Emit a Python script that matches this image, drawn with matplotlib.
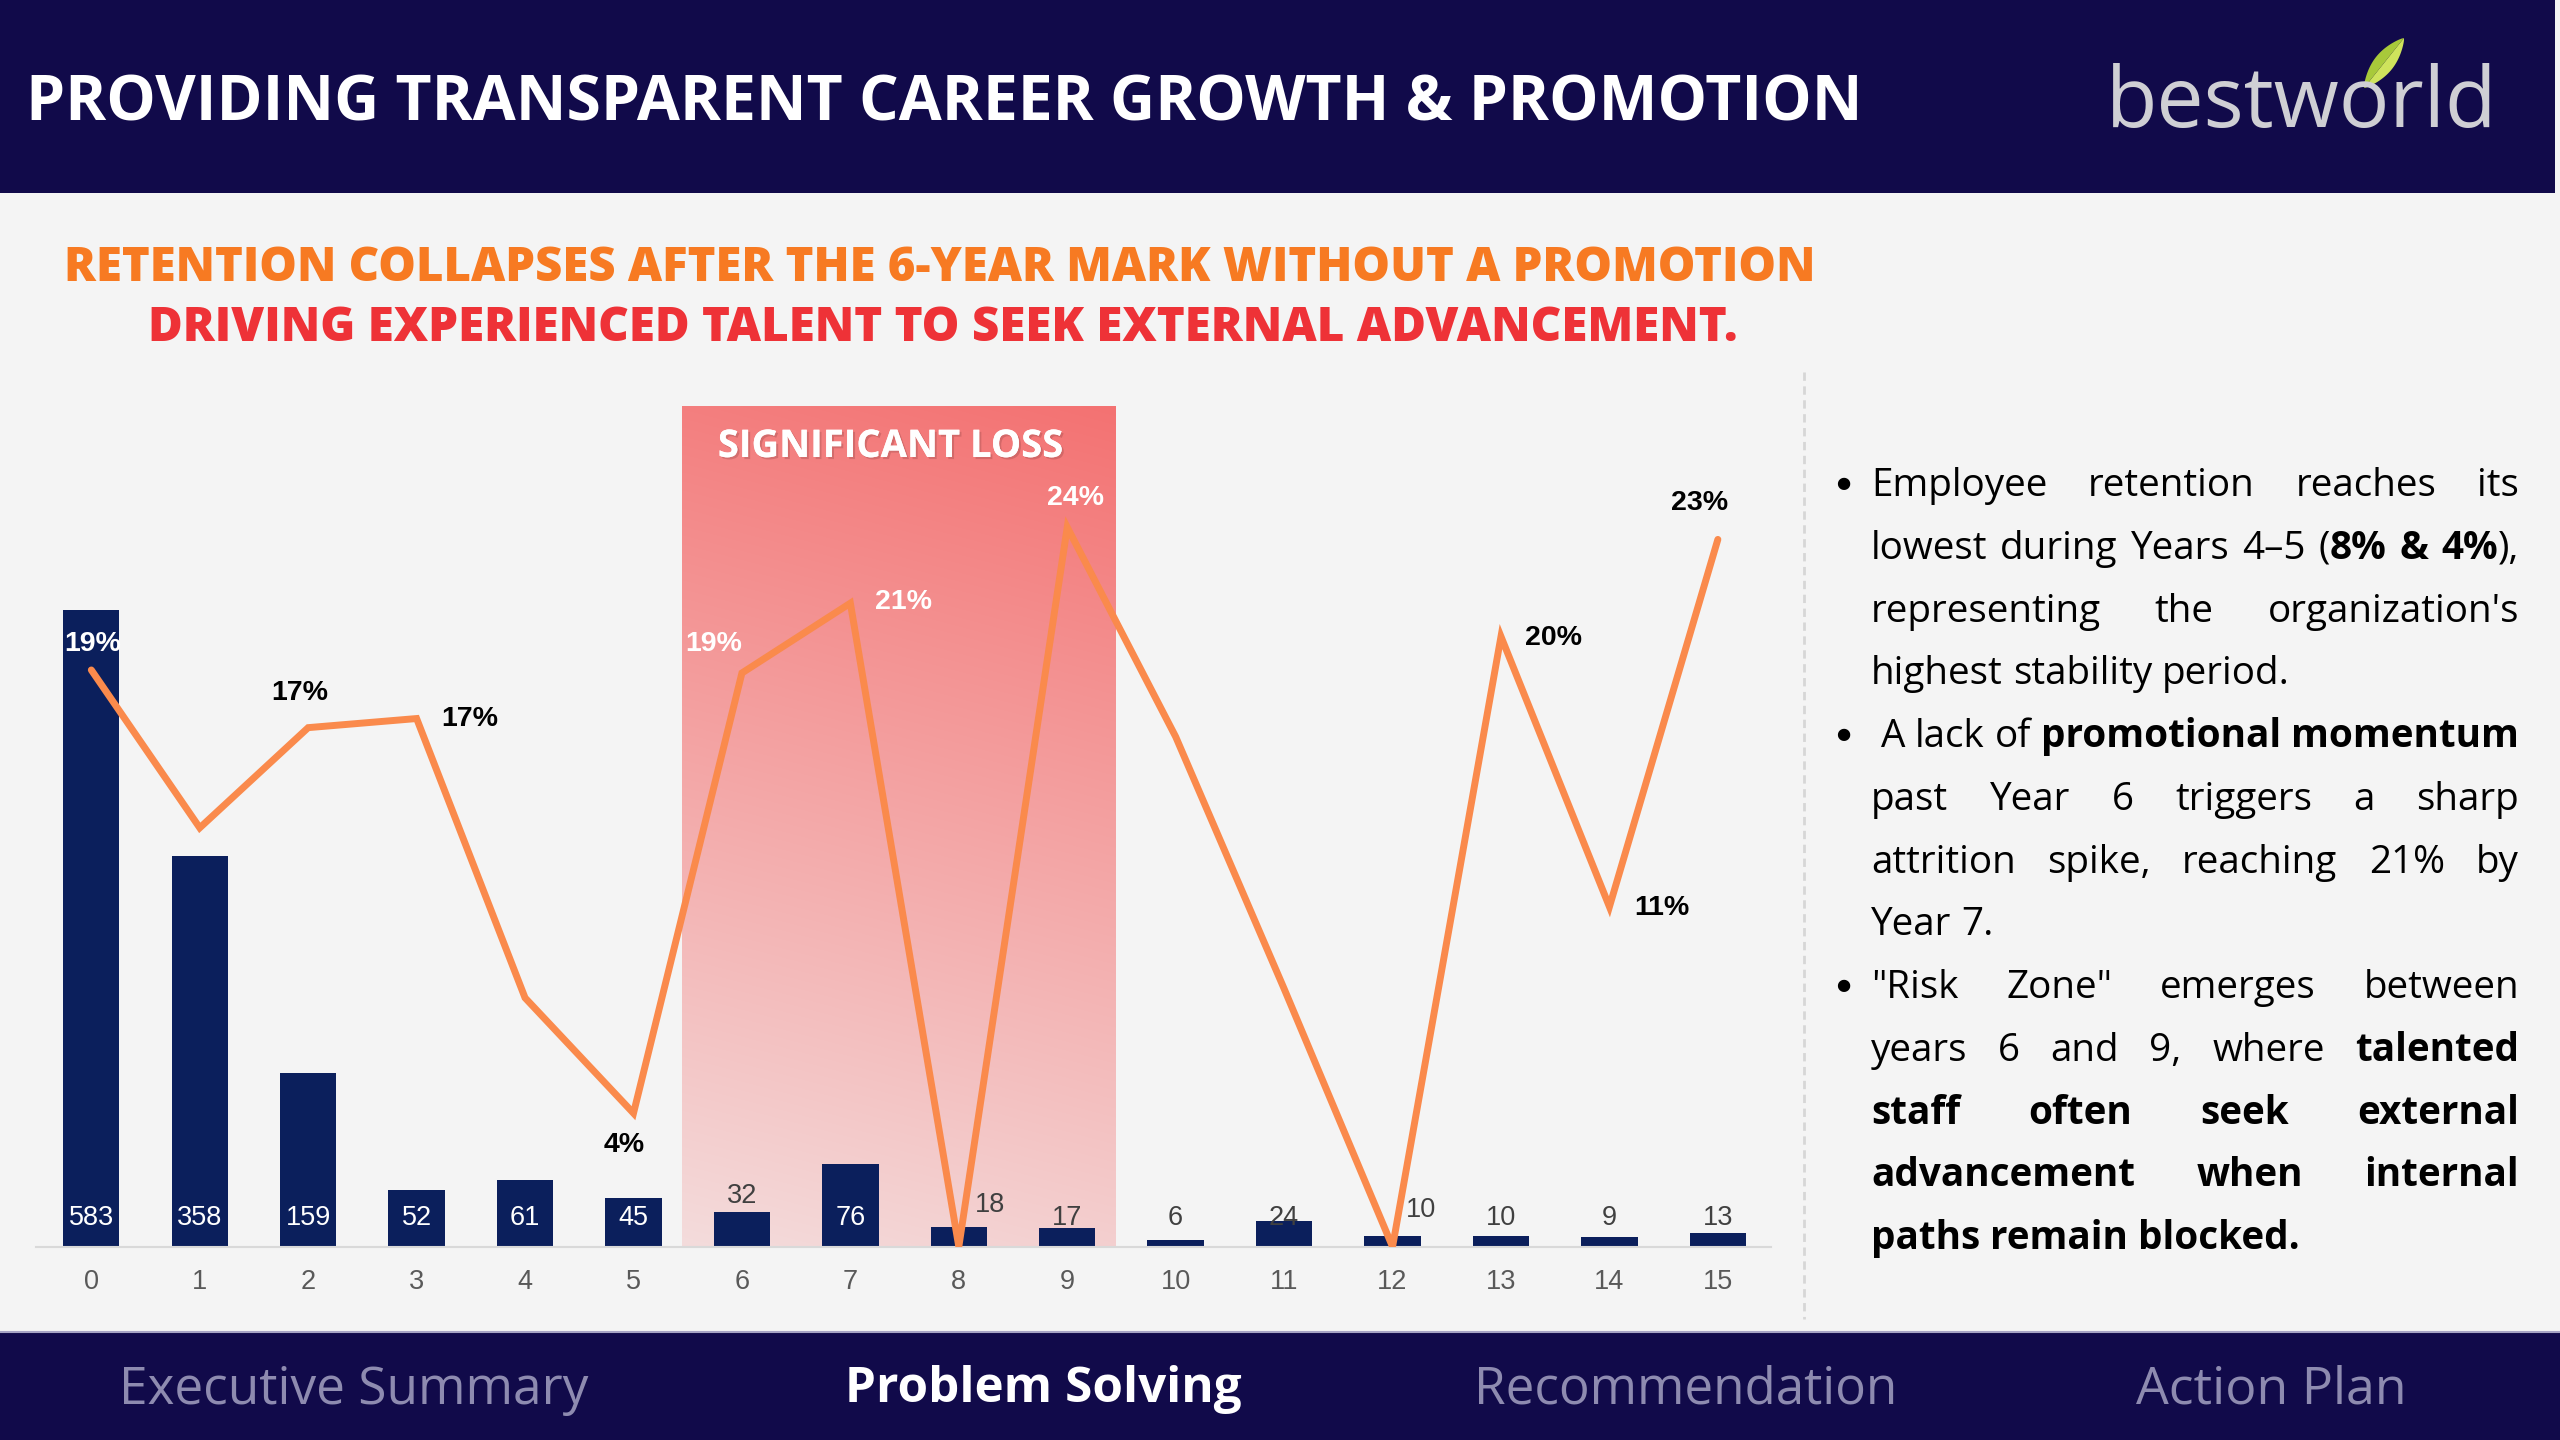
import re
import numpy as np
import matplotlib
matplotlib.use("Agg")
import matplotlib.pyplot as plt
from matplotlib.patches import Rectangle, Polygon
from matplotlib.lines import Line2D
import matplotlib.patheffects as pe

# ---------------- data ----------------
years = list(range(16))
year_labels = [str(y) for y in years]
headcount = [583, 358, 159, 52, 61, 45, 32, 76, 18, 17, 6, 24, 10, 10, 9, 13]
attrition_pct = [19.0, 13.8, 17.1, 17.4, 8.2, 4.4, 18.9, 21.2, 0.0, 23.7,
                 16.8, 8.5, 0.0, 20.1, 11.2, 23.3]
pct_labelled = [0, 2, 3, 5, 6, 7, 9, 13, 14, 15]
risk_zone = (5.45, 9.45)

title = "PROVIDING TRANSPARENT CAREER GROWTH & PROMOTION"
subtitle_1 = "RETENTION COLLAPSES AFTER THE 6-YEAR MARK WITHOUT A PROMOTION"
subtitle_2 = "DRIVING EXPERIENCED TALENT TO SEEK EXTERNAL ADVANCEMENT."
zone_label = "SIGNIFICANT LOSS"
nav_items = ["Executive Summary", "Problem Solving", "Recommendation", "Action Plan"]
nav_active = "Problem Solving"
bullets = [
    ["Employee retention reaches its",
     "lowest during Years 4\u20135 (**8% & 4%**),",
     "representing the organization's",
     "highest stability period."],
    [" A lack of **promotional momentum**",
     "past Year 6 triggers a sharp",
     "attrition spike, reaching 21% by",
     "Year 7."],
    ["\"Risk Zone\" emerges between",
     "years 6 and 9, where **talented**",
     "**staff often seek external**",
     "**advancement when internal**",
     "**paths remain blocked.**"],
]

# ---------------- style ----------------
NAVY = "#110A4A"
BG = "#F4F4F4"
BAR = "#0B1F5C"
LINE = "#FA8A4C"
W, H = 2560, 1440

# label offsets in points (style only)
bar_lbl_off = {i: (0, 20.7) for i in years}
bar_lbl_off[6] = (0, 36.8)
bar_lbl_off[8] = (22.6, 30.1)
bar_lbl_off[12] = (20.5, 26.5)
bar_lbl_white = [0, 1, 2, 3, 4, 5, 7]
pct_off = {0: (1, 19), 2: (-6, 25), 3: (38, 0), 5: (-7, -23), 6: (-20, 21),
           7: (38, 1), 9: (6, 21), 13: (38, -1), 14: (38, -1), 15: (-13, 26)}
pct_white = [0, 6, 7, 9]

fig = plt.figure(figsize=(25.6, 14.4), dpi=100, facecolor=BG)
R = fig.canvas.get_renderer()


def fx(x):
    return x / W


def fy(y):
    return 1 - y / H


def tw(t):
    return t.get_window_extent(R).width


def fit(t, target):
    for _ in range(3):
        t.set_fontsize(t.get_fontsize() * target / tw(t))


# header / footer bands
fig.add_artist(Rectangle((0, fy(193)), fx(2555), 193 / H, transform=fig.transFigure,
                         facecolor=NAVY, edgecolor="none", zorder=0))
fig.add_artist(Rectangle((0, 0), 1, (H - 1332) / H, transform=fig.transFigure,
                         facecolor=NAVY, edgecolor="none", zorder=0))
fig.add_artist(Line2D([0, 1], [fy(1332), fy(1332)], transform=fig.transFigure,
                      color="#A7A4C4", lw=1.5, zorder=1))

t = fig.text(fx(26), fy(104), title, color="white", fontsize=40, fontweight="bold",
             family="Open Sans", ha="left", va="center")
fit(t, 1835)

# logo
t = fig.text(fx(2106), fy(127), "bestworld", color="#CFCFD4", fontsize=60,
             family="Open Sans", ha="left", va="baseline")
fit(t, 392)
base = np.array([2364.0, 88.0])
tip = np.array([2404.0, 38.0])
d = tip - base
n = np.array([-d[1], d[0]]) / np.linalg.norm(d)
s = np.linspace(0, 1, 30)
hw = 10 * np.sin(np.pi * s) ** 0.8
axis_pts = base + np.outer(s, d)
left_pts = axis_pts + np.outer(hw, n)
right_pts = axis_pts - np.outer(hw, n)
for pts, col in [(np.vstack([axis_pts, left_pts[::-1]]), "#CFE35C"),
                 (np.vstack([axis_pts, right_pts[::-1]]), "#A8C93A")]:
    fig.add_artist(Polygon(np.column_stack([pts[:, 0] / W, 1 - pts[:, 1] / H]),
                           closed=True, transform=fig.transFigure,
                           facecolor=col, edgecolor="none", zorder=2))

# subtitles
t = fig.text(fx(940), fy(269), subtitle_1, color="#F77A22", fontsize=28,
             fontweight="heavy", family="Open Sans", ha="center", va="center")
fit(t, 1749)
t = fig.text(fx(943), fy(329), subtitle_2, color="#EE3237", fontsize=28,
             fontweight="heavy", family="Open Sans", ha="center", va="center")
fit(t, 1588)

# ---------------- chart ----------------
base_y, top_y = 1246.8, 406.0
ax = fig.add_axes([fx(36), fy(base_y), (1771 - 36) / W, (base_y - top_y) / H])
ax.set_facecolor("none")
bar_top = (base_y - top_y) / 1.093
line_top = (base_y - top_y) / 30.36

# gradient zone
u = np.linspace(0, 1, 200)
v = np.linspace(0, 1, 400)
U, V = np.meshgrid(u, v)
tt = np.clip(0.88 * V + 0.12 * U, 0, 1)[..., None]
c_bot = np.array(matplotlib.colors.to_rgb("#F3DCDC"))
c_top = np.array(matplotlib.colors.to_rgb("#F47272"))
img = c_bot * (1 - tt) + c_top * tt
ax.imshow(img, extent=[risk_zone[0], risk_zone[1], 0, bar_top], origin="lower",
          aspect="auto", zorder=0.5, interpolation="bilinear")

ax.bar(years, headcount, width=0.52, color=BAR, zorder=2)
ax.set_xlim(-0.51, 15.49)
ax.set_ylim(0, bar_top)
for sp in ["left", "right", "top"]:
    ax.spines[sp].set_visible(False)
ax.spines["bottom"].set_color("#D9D9D9")
ax.spines["bottom"].set_linewidth(1.5)
ax.set_yticks([])
ax.set_xticks(years)
ax.set_xticklabels(year_labels, family="Liberation Sans", fontsize=19.5, color="#595959")
ax.tick_params(axis="x", length=0, pad=16)

for i, hc in zip(years, headcount):
    ax.annotate(str(hc), xy=(i, 0), xytext=bar_lbl_off[i], textcoords="offset points",
                ha="center", va="center", fontsize=19.5, family="Liberation Sans",
                color="white" if i in bar_lbl_white else "#404040", zorder=4)

ax2 = ax.twinx()
ax2.set_facecolor("none")
ax2.set_ylim(0, line_top)
ax2.plot(years, attrition_pct, color=LINE, lw=5.0, solid_joinstyle="miter",
         solid_capstyle="round", zorder=3)
for sp in ax2.spines.values():
    sp.set_visible(False)
ax2.set_yticks([])
for i in pct_labelled:
    ax2.annotate(f"{round(attrition_pct[i])}%", xy=(i, attrition_pct[i]),
                 xytext=pct_off[i], textcoords="offset points", ha="center",
                 va="center", fontsize=20.5, fontweight="bold", family="Liberation Sans",
                 color="white" if i in pct_white else "black")

t = fig.text(fx(890), fy(447), zone_label, color="white", fontsize=24,
             fontweight="bold", family="Open Sans", ha="center", va="center",
             path_effects=[pe.withSimplePatchShadow(offset=(1.5, -1.5),
                                                    shadow_rgbFace="#9a4a4a", alpha=0.35),
                           pe.Normal()])
fit(t, 347)

# separator
fig.add_artist(Line2D([fx(1804), fx(1804)], [fy(372), fy(1319)], transform=fig.transFigure,
                      color="#D6D6D6", lw=2, linestyle=(0, (3, 2))))

# ---------------- bullet text ----------------
probe = fig.text(0, 0, "highest stability period.", fontsize=26, family="Open Sans")
fit(probe, 420)
body_fs = probe.get_fontsize()
probe.remove()


def measure(s, bold):
    tmp = fig.text(0, 0, s, fontsize=body_fs, family="Open Sans",
                   fontweight="bold" if bold else "normal")
    w = tw(tmp)
    tmp.remove()
    return w


space_w = measure("a a", False) - measure("aa", False)


def parse(line):
    chars = []
    bold = False
    for tok in re.split(r"(\*\*)", line):
        if tok == "**":
            bold = not bold
            continue
        for c in tok:
            chars.append((c, bold))
    words, cur = [], []
    for c, b in chars:
        if c == " ":
            if cur:
                words.append(cur)
                cur = []
        else:
            cur.append((c, b))
    if cur:
        words.append(cur)
    out = []
    for w in words:
        segs = []
        for c, b in w:
            if segs and segs[-1][1] == b:
                segs[-1][0] += c
            else:
                segs.append([c, b])
        out.append(segs)
    return out


x_left, x_right = 1871, 2519
baseline0, step = 496.0, 62.77
k = 0
for para in bullets:
    for li, line in enumerate(para):
        y = baseline0 + k * step
        if li == 0:
            fig.text(fx(1843), fy(y - 13), "\u25CF", fontsize=body_fs * 0.42,
                     family="DejaVu Sans", ha="center", va="center", color="black")
        words = parse(line)
        indent = space_w if line.startswith(" ") else 0
        widths = [[measure(sg, b) for sg, b in w] for w in words]
        total = sum(sum(w) for w in widths)
        last = li == len(para) - 1
        if last or len(words) < 2:
            gap = space_w
        else:
            gap = (x_right - x_left - indent - total) / (len(words) - 1)
            gap = max(gap, 0.85 * space_w)
        x = x_left + indent
        for w, ws in zip(words, widths):
            for (sg, b), sw in zip(w, ws):
                fig.text(fx(x), fy(y), sg, fontsize=body_fs, family="Open Sans",
                         fontweight="bold" if b else "normal", ha="left",
                         va="baseline", color="black")
                x += sw
            x += gap
        k += 1

# ---------------- footer nav ----------------
nav_x = [354, 1043, 1686, 2271]
nav_w = [470, 397, 423, 271]
for name, cx, wd in zip(nav_items, nav_x, nav_w):
    active = name == nav_active
    t = fig.text(fx(cx), fy(1390), name, fontsize=34, family="Open Sans",
                 fontweight="bold" if active else "normal",
                 color="white" if active else "#8E8BB0", ha="center", va="center")
    fit(t, wd)

fig.savefig("out.png", dpi=100, facecolor=fig.get_facecolor())
